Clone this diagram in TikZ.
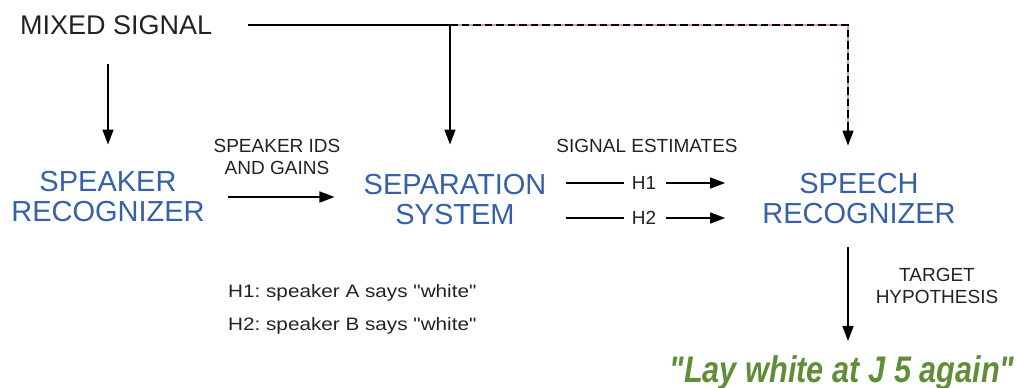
\documentclass[tikz,border=0pt]{standalone}
\usepackage{fontspec}
\setmainfont{Liberation Sans}
\usetikzlibrary{arrows.meta}
\frenchspacing
\definecolor{blockblue}{RGB}{54,96,168}
\definecolor{hypgreen}{RGB}{96,142,56}
\definecolor{labelgray}{RGB}{34,34,34}
\definecolor{refpink}{RGB}{235,150,150}
\tikzset{
  wire/.style={line width=1.5pt, draw=black},
  arr/.style={wire, -{Triangle[length=15pt,width=11pt]}},
  block/.style={font=\fontsize{29}{30}\selectfont, text=blockblue, align=center, inner sep=0pt},
  lbl/.style={font=\fontsize{19}{22}\selectfont, text=labelgray, align=center, inner sep=0pt},
  note/.style={font=\fontsize{18}{22}\selectfont, text=labelgray, inner sep=0pt, anchor=base west},
  dashwire/.style={line width=1.5pt, draw=black, dash pattern=on 7.5pt off 4pt},
  pinkwire/.style={line width=1.5pt, draw=refpink},
}
\newcommand{\qt}{\textquotedbl}
\begin{document}
\begin{tikzpicture}[x=1pt,y=-1pt]
\useasboundingbox (0,0) rectangle (1017,388);

% text blocks
\node[font=\fontsize{27}{30}\selectfont, text=labelgray, inner sep=0pt, anchor=base west] (mixed) at (20,34) {MIXED SIGNAL};
\node[block] (spk) at (108,197) {SPEAKER\\RECOGNIZER};
\node[block] (sep) at (455,200) {SEPARATION\\SYSTEM};
\node[block] (speech) at (859,199) {SPEECH\\RECOGNIZER};

\node[lbl] (ids) at (277,157) {SPEAKER IDS\\AND GAINS};
\node[lbl] (est) at (647,146) {SIGNAL ESTIMATES};
\node[lbl] (h1) at (644,183) {H1};
\node[lbl] (h2) at (644,218) {H2};
\node[lbl] (target) at (937,286) {TARGET\\HYPOTHESIS};

\node[note] (n1) at (228,297) {\scalebox{1.15}[1]{H1: speaker A says \qt white\qt}};
\node[note] (n2) at (228,330) {\scalebox{1.15}[1]{H2: speaker B says \qt white\qt}};

\node[inner sep=0pt, anchor=base, text=hypgreen,
      font=\fontsize{37}{40}\selectfont\bfseries\itshape] (hyp) at (842,382)
      {\scalebox{0.83}[1]{\qt Lay white at J 5 again\qt}};

% junctions of the mixed-signal feed
\coordinate (split) at (450,25);
\coordinate (corner) at (848,25);
\coordinate (spkin) at (108,64);

% mixed signal feed
\draw[wire] ([xshift=36pt]mixed.east |- split) -- (split);
\draw[arr, shorten >=30pt] (split) -- (split |- sep.north);
\draw[pinkwire, shorten >=42pt] (split) -- (corner) -- (corner |- speech.north);
\draw[dashwire, shorten >=42pt] (split) -- (corner) -- (corner |- speech.north);
\draw[arr] ([yshift=45pt]corner |- speech.north) -- ([yshift=28pt]corner |- speech.north);
\draw[arr, shorten >=27pt] (spkin) -- (spkin |- spk.north);

% speaker ids to separation
\draw[arr, shorten <=23pt, shorten >=29pt] (spk.east) -- (spk.east -| sep.west);

% signal estimates
\draw[wire, shorten <=19pt, shorten >=8pt] (sep.east |- h1) -- (h1.west);
\draw[arr, shorten <=10pt, shorten >=37pt] (h1.east) -- (h1 -| speech.west);
\draw[wire, shorten <=19pt, shorten >=8pt] (sep.east |- h2) -- (h2.west);
\draw[arr, shorten <=10pt, shorten >=37pt] (h2.east) -- (h2 -| speech.west);

% target hypothesis
\draw[arr, shorten <=23pt, shorten >=14pt] (corner |- speech.south) -- (corner |- hyp.north);
\end{tikzpicture}
\end{document}
